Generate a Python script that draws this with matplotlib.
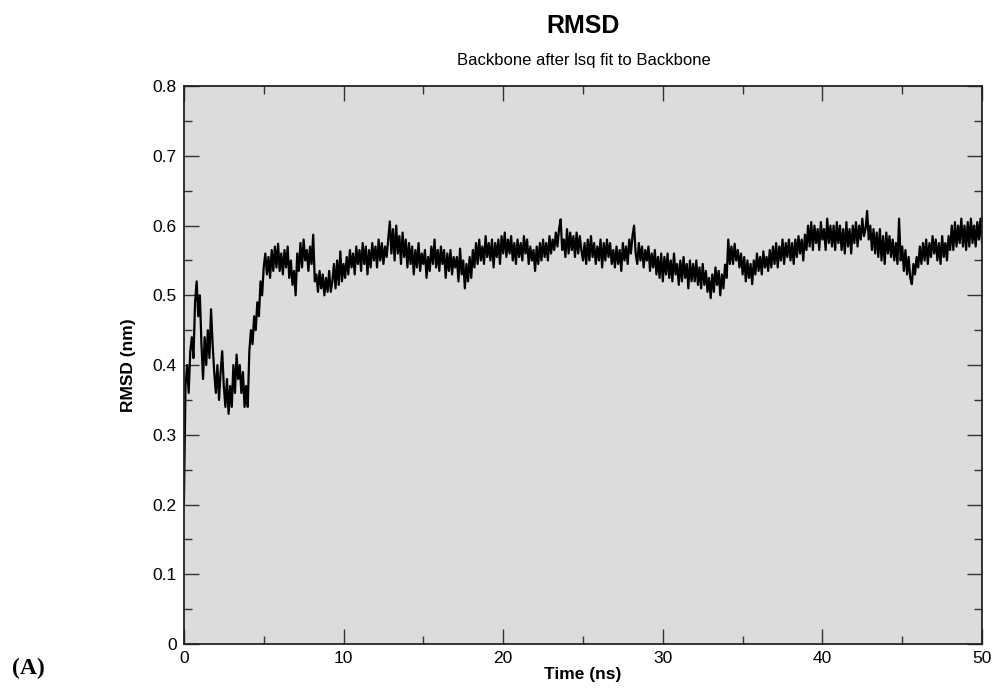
import matplotlib
matplotlib.use("Agg")
import matplotlib.pyplot as plt
from matplotlib.ticker import MultipleLocator
import numpy as np

plt.rcParams['font.family'] = ['Liberation Sans', 'DejaVu Sans']

# RMSD degerleri (nm), 0.1 ns aralikla
# 0.0 - 5.0 ns
rmsd_early = [0.20, 0.37, 0.40, 0.36, 0.42, 0.44, 0.41, 0.49, 0.52, 0.47,
              0.50, 0.43, 0.38, 0.44, 0.40, 0.45, 0.41, 0.48, 0.43, 0.39,
              0.36, 0.40, 0.35, 0.39, 0.42, 0.37, 0.34, 0.38, 0.33, 0.37,
              0.34, 0.40, 0.36, 0.415, 0.38, 0.40, 0.36, 0.39, 0.34, 0.37,
              0.34, 0.42, 0.45, 0.43, 0.47, 0.45, 0.49, 0.47, 0.52, 0.50,
              0.54]

# 5.1 - 50.0 ns
rmsd_late = [
    0.56, 0.53, 0.555, 0.525, 0.565, 0.535, 0.57, 0.54, 0.574, 0.535,
    0.56, 0.53, 0.565, 0.54, 0.57, 0.525, 0.55, 0.515, 0.535, 0.50,
    0.56, 0.535, 0.575, 0.54, 0.58, 0.55, 0.565, 0.535, 0.57, 0.545,
    0.587, 0.52, 0.53, 0.505, 0.535, 0.51, 0.53, 0.50, 0.525, 0.505,
    0.535, 0.505, 0.52, 0.545, 0.51, 0.55, 0.515, 0.563, 0.52, 0.545,
    0.525, 0.555, 0.53, 0.565, 0.54, 0.56, 0.53, 0.57, 0.545, 0.565,
    0.535, 0.575, 0.545, 0.57, 0.53, 0.565, 0.54, 0.575, 0.55, 0.57,
    0.54, 0.58, 0.55, 0.575, 0.545, 0.57, 0.555, 0.58, 0.606, 0.56,
    0.595, 0.55, 0.60, 0.56, 0.585, 0.545, 0.59, 0.555, 0.58, 0.54,
    0.575, 0.545, 0.57, 0.53, 0.565, 0.54, 0.575, 0.535, 0.56, 0.545,
    0.565, 0.525, 0.555, 0.535, 0.57, 0.545, 0.58, 0.54, 0.565, 0.535,
    0.57, 0.545, 0.565, 0.525, 0.56, 0.535, 0.565, 0.53, 0.555, 0.54,
    0.555, 0.52, 0.567, 0.53, 0.55, 0.51, 0.545, 0.52, 0.555, 0.525,
    0.565, 0.54, 0.575, 0.545, 0.58, 0.55, 0.57, 0.545, 0.585, 0.555,
    0.575, 0.55, 0.58, 0.54, 0.575, 0.555, 0.58, 0.545, 0.585, 0.56,
    0.59, 0.555, 0.58, 0.56, 0.585, 0.55, 0.575, 0.545, 0.58, 0.555,
    0.575, 0.55, 0.585, 0.56, 0.58, 0.545, 0.57, 0.55, 0.565, 0.535,
    0.57, 0.545, 0.575, 0.55, 0.58, 0.555, 0.575, 0.55, 0.585, 0.56,
    0.58, 0.565, 0.59, 0.57, 0.595, 0.609, 0.565, 0.58, 0.555, 0.595,
    0.56, 0.59, 0.565, 0.585, 0.555, 0.59, 0.56, 0.585, 0.565, 0.55,
    0.575, 0.545, 0.58, 0.55, 0.585, 0.555, 0.575, 0.545, 0.57, 0.55,
    0.58, 0.54, 0.575, 0.55, 0.58, 0.555, 0.575, 0.545, 0.565, 0.54,
    0.57, 0.545, 0.565, 0.535, 0.575, 0.55, 0.57, 0.545, 0.58, 0.56,
    0.585, 0.60, 0.56, 0.545, 0.575, 0.55, 0.57, 0.54, 0.565, 0.55,
    0.57, 0.535, 0.56, 0.54, 0.565, 0.53, 0.555, 0.525, 0.56, 0.52,
    0.555, 0.53, 0.56, 0.525, 0.55, 0.52, 0.56, 0.53, 0.545, 0.515,
    0.55, 0.52, 0.555, 0.525, 0.545, 0.51, 0.55, 0.52, 0.545, 0.52,
    0.55, 0.515, 0.54, 0.51, 0.545, 0.515, 0.535, 0.505, 0.525, 0.496,
    0.53, 0.505, 0.54, 0.515, 0.535, 0.50, 0.53, 0.51, 0.544, 0.525,
    0.58, 0.545, 0.57, 0.545, 0.574, 0.55, 0.565, 0.54, 0.56, 0.53,
    0.555, 0.52, 0.55, 0.525, 0.545, 0.516, 0.55, 0.53, 0.56, 0.535,
    0.555, 0.53, 0.563, 0.54, 0.555, 0.535, 0.565, 0.54, 0.57, 0.545,
    0.575, 0.54, 0.57, 0.55, 0.58, 0.545, 0.575, 0.555, 0.58, 0.55,
    0.575, 0.545, 0.58, 0.555, 0.585, 0.56, 0.58, 0.55, 0.587, 0.565,
    0.60, 0.57, 0.605, 0.565, 0.60, 0.575, 0.595, 0.565, 0.605, 0.58,
    0.595, 0.565, 0.61, 0.575, 0.60, 0.57, 0.60, 0.565, 0.605, 0.575,
    0.60, 0.565, 0.595, 0.56, 0.605, 0.57, 0.595, 0.56, 0.60, 0.575,
    0.605, 0.57, 0.60, 0.58, 0.61, 0.585, 0.595, 0.621, 0.58, 0.60,
    0.565, 0.595, 0.56, 0.59, 0.555, 0.595, 0.55, 0.585, 0.545, 0.59,
    0.56, 0.585, 0.555, 0.58, 0.55, 0.575, 0.545, 0.61, 0.55, 0.57,
    0.535, 0.565, 0.53, 0.555, 0.525, 0.516, 0.545, 0.53, 0.555, 0.54,
    0.57, 0.545, 0.575, 0.55, 0.58, 0.545, 0.575, 0.555, 0.585, 0.56,
    0.58, 0.55, 0.575, 0.545, 0.585, 0.555, 0.575, 0.55, 0.585, 0.565,
    0.60, 0.565, 0.605, 0.57, 0.60, 0.575, 0.61, 0.57, 0.60, 0.565,
    0.605, 0.57, 0.61, 0.575, 0.60, 0.57, 0.605, 0.58, 0.61, 0.575,
]

rmsd = np.array(rmsd_early + rmsd_late)
time_ns = np.arange(len(rmsd)) * 0.1

fig = plt.figure(figsize=(9.94, 6.93), dpi=100)
ax = fig.add_axes([0.185, 0.0707, 0.803, 0.805])
ax.set_facecolor('#dcdcdc')

ax.plot(time_ns, rmsd, color='black', lw=1.6)

ax.set_xlim(0, 50)
ax.set_ylim(0, 0.8)
ax.xaxis.set_major_locator(MultipleLocator(10))
ax.xaxis.set_minor_locator(MultipleLocator(5))
ax.yaxis.set_minor_locator(MultipleLocator(0.05))
ax.set_yticks(np.arange(0, 0.81, 0.1))
ax.set_yticklabels(['0', '0.1', '0.2', '0.3', '0.4', '0.5', '0.6', '0.7', '0.8'])

ax.tick_params(which='both', direction='in', top=True, right=True,
               color='#333333', width=1.0, labelsize=12.5)
ax.tick_params(which='major', length=11, pad=5)
ax.tick_params(which='minor', length=6)
for s in ax.spines.values():
    s.set_linewidth(1.3)
    s.set_color('#222222')

ax.set_xlabel('Time (ns)', fontsize=12.5, fontweight='bold', labelpad=1)
ax.set_ylabel('RMSD (nm)', fontsize=12.5, fontweight='bold', labelpad=12)

fig.text(0.587, 0.962, 'RMSD', ha='center', va='center', fontsize=18, fontweight='bold')
fig.text(0.587, 0.913, 'Backbone after lsq fit to Backbone', ha='center', va='center', fontsize=12)
fig.text(0.012, 0.02, '(A)', ha='left', va='bottom', fontsize=17, fontweight='bold',
         family='Liberation Serif')

fig.savefig('out.png', dpi=100)
